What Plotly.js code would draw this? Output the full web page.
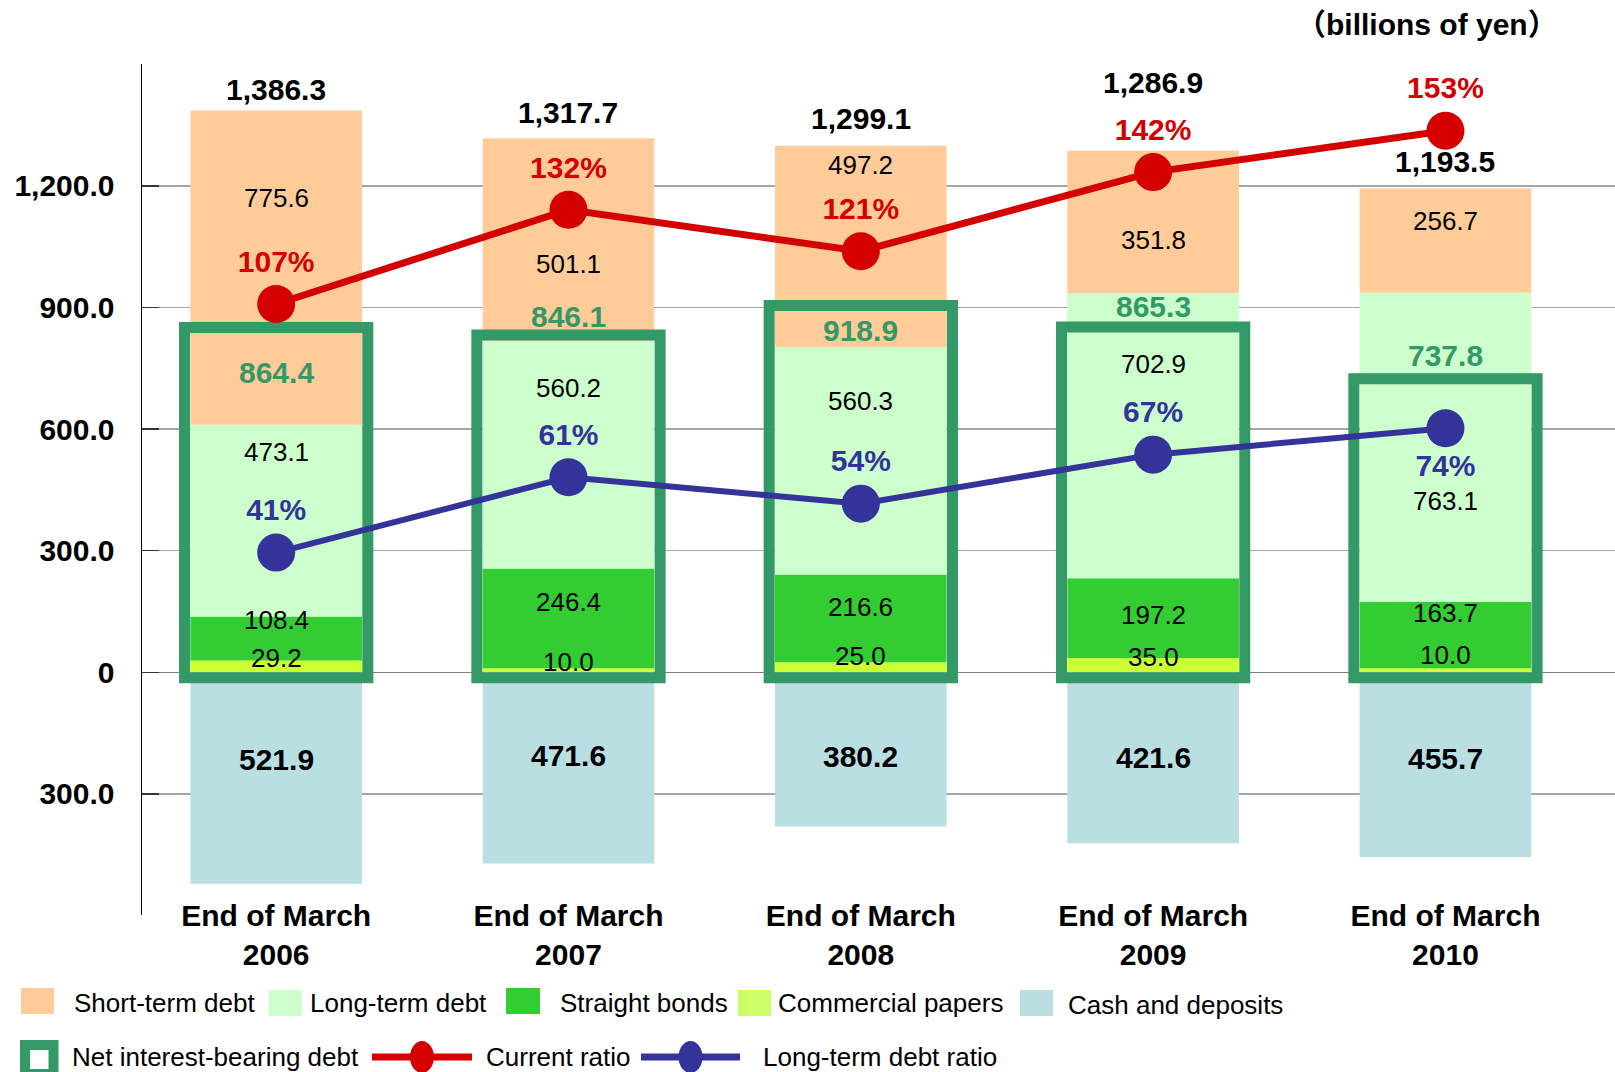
<!DOCTYPE html>
<html><head><meta charset="utf-8">
<script src="https://cdn.plot.ly/plotly-3.0.1.min.js"></script>
<style>html,body{margin:0;padding:0;background:#fff;} #chart{width:1615px;height:1072px;}</style>
</head><body><div id="chart"></div>
<script>
// ---------------- data ----------------
const years = ['2006', '2007', '2008', '2009', '2010'];
const categories = years.map(y => 'End of March<br>' + y);
const shortTermDebt = [775.6, 501.1, 497.2, 351.8, 256.7];
const longTermDebt = [473.1, 560.2, 560.3, 702.9, 763.1];
const straightBonds = [108.4, 246.4, 216.6, 197.2, 163.7];
const commercialPapers = [29.2, 10.0, 25.0, 35.0, 10.0];
const cashAndDeposits = [521.9, 471.6, 380.2, 421.6, 455.7];
const totalDebt = [1386.3, 1317.7, 1299.1, 1286.9, 1193.5];
const netInterestBearingDebt = [864.4, 846.1, 918.9, 865.3, 737.8];
const currentRatio = [107, 132, 121, 142, 153];
const longTermDebtRatio = [41, 61, 54, 67, 74];
const yTickVals = [-300, 0, 300, 600, 900, 1200];
const yTickText = ['300.0', '0', '300.0', '600.0', '900.0', '1,200.0'];
const unitLabel = '（billions of yen）';

// ---------------- style ----------------
const FONT = 'Liberation Sans, Arial, Helvetica, sans-serif';
const C = {
  st: '#FFCC99', lt: '#CCFFCC', sb: '#33CC33', cp: '#CCFF33', cpLegend: '#CCFF66',
  cash: '#B9DFE2', net: '#339966', red: '#D40000', blue: '#333399'
};
const BAR_W = 0.587, BOX_W = 0.627;
const X_RANGE = [-0.459, 4.58];
const Y_RANGE = [-598.8, 1500.9];
const Y3_RANGE = [-55.2, 170.7];
const BOX_STROKE = 11;
// px per data unit on the main axis, used to keep the box stroke outside the zero line
const PX_PER_UNIT = (915 - 64) / (Y_RANGE[1] - Y_RANGE[0]);
const BOX_BASE = -(BOX_STROKE / 2) / PX_PER_UNIT;
// label vertical nudges in px (positive = up)
const labelShift = {
  cp: [8, 8, 11, 8, 15],
  sb: [19, 16, 11, 3, 22],
  lt: [69, 67, 60, 72, -54],
  st: [70, -24, 82, -18, 20],
  total: [21, 26, 27, 68, 27],
  net: [-51, 13, -31, 15, 18],
  cash: [19, 12, -7, 0, 6]
};
// plot area in px (for legend placement)
const PL = 142, PR = 1615, PT = 64, PB = 915;
const px = x => (x - PL) / (PR - PL);
const py = y => (PB - y) / (PB - PT);

function barTrace(name, vals, color) {
  return {type: 'bar', name, x: categories, y: vals, width: BAR_W,
    marker: {color, line: {width: 0}}, hoverinfo: 'skip'};
}

const traces = [
  barTrace('Commercial papers', commercialPapers, C.cp),
  barTrace('Straight bonds', straightBonds, C.sb),
  barTrace('Long-term debt', longTermDebt, C.lt),
  barTrace('Short-term debt', shortTermDebt, C.st),
  barTrace('Cash and deposits', cashAndDeposits.map(v => -v), C.cash),
  {type: 'bar', name: 'Net interest-bearing debt', x: categories, y: netInterestBearingDebt,
    base: BOX_BASE, yaxis: 'y2', width: BOX_W,
    marker: {color: 'rgba(0,0,0,0)', line: {color: C.net, width: BOX_STROKE}}, hoverinfo: 'skip'},
  {type: 'scatter', mode: 'lines+markers+text', name: 'Current ratio', x: categories, y: currentRatio,
    yaxis: 'y3', line: {color: C.red, width: 7}, marker: {color: C.red, size: 38},
    text: currentRatio.map(v => v + '%'), textposition: 'top center', cliponaxis: false,
    textfont: {family: FONT, size: 30, color: C.red, weight: 'bold'}, hoverinfo: 'skip'},
  {type: 'scatter', mode: 'lines+markers+text', name: 'Long-term debt ratio', x: categories, y: longTermDebtRatio,
    yaxis: 'y3', line: {color: C.blue, width: 6}, marker: {color: C.blue, size: 38},
    text: longTermDebtRatio.map(v => v + '%'),
    textposition: ['top center', 'top center', 'top center', 'top center', 'bottom center'], cliponaxis: false,
    textfont: {family: FONT, size: 30, color: C.blue, weight: 'bold'}, hoverinfo: 'skip'}
];

const annotations = [];
function label(i, y, text, shift, size, bold, color) {
  annotations.push({xref: 'x', yref: 'y', x: i, y, text, showarrow: false, yshift: shift,
    xanchor: 'center', yanchor: 'middle',
    font: {family: FONT, size, color, weight: bold ? 'bold' : 'normal'}});
}
const fmt1 = v => v.toLocaleString('en-US', {minimumFractionDigits: 1, maximumFractionDigits: 1});
for (let i = 0; i < categories.length; i++) {
  const cp = commercialPapers[i], sb = straightBonds[i], lt = longTermDebt[i], st = shortTermDebt[i];
  label(i, cp / 2, fmt1(cp), labelShift.cp[i], 26, false, '#000');
  label(i, cp + sb / 2, fmt1(sb), labelShift.sb[i], 26, false, '#000');
  label(i, cp + sb + lt / 2, fmt1(lt), labelShift.lt[i], 26, false, '#000');
  label(i, cp + sb + lt + st / 2, fmt1(st), labelShift.st[i], 26, false, '#000');
  label(i, totalDebt[i], fmt1(totalDebt[i]), labelShift.total[i], 30, true, '#000');
  label(i, netInterestBearingDebt[i], fmt1(netInterestBearingDebt[i]), labelShift.net[i], 30, true, C.net);
  label(i, -cashAndDeposits[i] / 2, fmt1(cashAndDeposits[i]), labelShift.cash[i], 30, true, '#000');
}
// unit label
annotations.push({xref: 'paper', yref: 'paper', x: px(1427), y: py(24), text: unitLabel, showarrow: false,
  xanchor: 'center', yanchor: 'middle',
  font: {family: FONT + ', Noto Sans CJK JP', size: 30, color: '#000', weight: 'bold'}});

// ---------------- manual legend ----------------
const shapes = [];
function legendText(x, y, text) {
  annotations.push({xref: 'paper', yref: 'paper', x: px(x), y: py(y), text, showarrow: false,
    xanchor: 'left', yanchor: 'middle', font: {family: FONT, size: 26, color: '#000'}});
}
function legendSquare(x0, y0, x1, y1, color) {
  shapes.push({type: 'rect', xref: 'paper', yref: 'paper', x0: px(x0), x1: px(x1), y0: py(y1), y1: py(y0),
    fillcolor: color, line: {width: 0}, layer: 'above'});
}
legendSquare(21, 988, 54, 1014, C.st); legendText(72, 1003, 'Short-term debt');
legendSquare(269, 990, 302, 1016, C.lt); legendText(308, 1003, 'Long-term debt');
legendSquare(506, 988, 540, 1014, C.sb); legendText(558, 1003, 'Straight bonds');
legendSquare(738, 990, 771, 1016, C.cpLegend); legendText(776, 1003, 'Commercial papers');
legendSquare(1020, 990, 1053, 1016, C.cash); legendText(1066, 1005, 'Cash and deposits');
// net box legend
shapes.push({type: 'rect', xref: 'paper', yref: 'paper', x0: px(25), x1: px(53.5), y0: py(1074), y1: py(1045),
  fillcolor: '#FFFFFF', line: {color: C.net, width: 10}, layer: 'above'});
legendText(70, 1057, 'Net interest-bearing debt');
function legendLine(x0, x1, y, color, w) {
  shapes.push({type: 'line', xref: 'paper', yref: 'paper', x0: px(x0), x1: px(x1), y0: py(y), y1: py(y),
    line: {color, width: w}, layer: 'above'});
  const cx = (x0 + x1) / 2;
  shapes.push({type: 'circle', xref: 'paper', yref: 'paper', x0: px(cx - 12), x1: px(cx + 12), y0: py(y + 16), y1: py(y - 16),
    fillcolor: color, line: {width: 0}, layer: 'above'});
}
legendLine(372, 472, 1057, C.red, 7); legendText(484, 1057, 'Current ratio');
legendLine(641, 740, 1057, C.blue, 7); legendText(761, 1057, 'Long-term debt ratio');

const layout = {
  width: 1615, height: 1072,
  margin: {l: PL, r: 1615 - PR, t: PT, b: 1072 - PB, pad: 0},
  paper_bgcolor: '#FFFFFF', plot_bgcolor: 'rgba(0,0,0,0)',
  barmode: 'relative', showlegend: false, hovermode: false,
  font: {family: FONT, color: '#000'},
  xaxis: {type: 'category', range: X_RANGE, showgrid: false, zeroline: false, showline: false,
    ticks: '', tickfont: {family: FONT, size: 30, weight: 'bold', color: '#000'}, ticklabelstandoff: -20,
    fixedrange: true},
  yaxis: {range: Y_RANGE, tickmode: 'array', tickvals: yTickVals, ticktext: yTickText,
    tickfont: {family: FONT, size: 30, weight: 'bold', color: '#000'},
    showgrid: true, gridcolor: '#A6A6A6', gridwidth: 1.5,
    zeroline: true, zerolinecolor: '#808080', zerolinewidth: 1.5,
    showline: true, linecolor: '#000', linewidth: 1.5,
    ticks: 'inside', ticklen: 17, tickwidth: 1.5, tickcolor: '#333', ticklabelstandoff: 20, fixedrange: true},
  yaxis2: {overlaying: 'y', range: Y_RANGE, visible: false, fixedrange: true},
  yaxis3: {overlaying: 'y', range: Y3_RANGE, visible: false, fixedrange: true},
  shapes, annotations
};

Plotly.newPlot('chart', traces, layout, {displayModeBar: false, staticPlot: true});
</script>
</body></html>
